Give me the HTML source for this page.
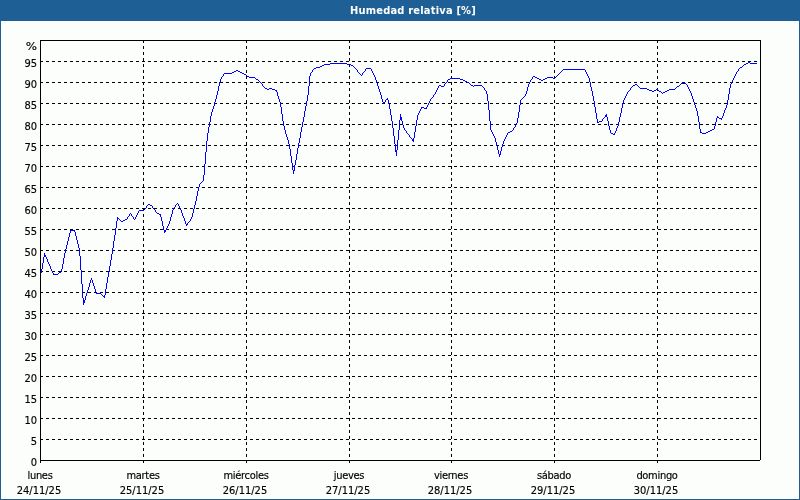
<!DOCTYPE html>
<html lang="es">
<head>
<meta charset="utf-8">
<title>Humedad relativa [%]</title>
<style>
html,body{margin:0;padding:0}
body{width:800px;height:500px;position:relative;overflow:hidden;background:#1e6096;font-family:"DejaVu Sans Condensed","Liberation Sans",sans-serif;font-size:11px;color:#000;-webkit-text-stroke:0.15px #000}
#title{position:absolute;left:350px;top:4px;letter-spacing:0.2px;color:#fff;font-weight:bold;-webkit-text-stroke:0;font-size:11px;line-height:13px;white-space:nowrap}
#panel{position:absolute;left:1px;top:21px;width:798px;height:478px;background:#fcfefb;box-shadow:inset 0 0 0 1px #fff}
.yl{position:absolute;left:0;width:37px;text-align:right;line-height:13px;height:13px;white-space:nowrap}
.xl{position:absolute;width:100px;text-align:center;line-height:13px;height:13px;white-space:nowrap}
.dn{letter-spacing:-0.3px}
</style>
</head>
<body>
<div id="title">Humedad relativa [%]</div>
<div id="panel"></div>
<svg width="800" height="500" viewBox="0 0 800 500" style="position:absolute;left:0;top:0">
<g shape-rendering="crispEdges" stroke="#000" stroke-width="1" fill="none">
<g stroke-dasharray="3 3">
<line x1="40" y1="439.5" x2="760" y2="439.5"/>
<line x1="40" y1="418.5" x2="760" y2="418.5"/>
<line x1="40" y1="397.5" x2="760" y2="397.5"/>
<line x1="40" y1="376.5" x2="760" y2="376.5"/>
<line x1="40" y1="355.5" x2="760" y2="355.5"/>
<line x1="40" y1="334.5" x2="760" y2="334.5"/>
<line x1="40" y1="313.5" x2="760" y2="313.5"/>
<line x1="40" y1="292.5" x2="760" y2="292.5"/>
<line x1="40" y1="271.5" x2="760" y2="271.5"/>
<line x1="40" y1="250.5" x2="760" y2="250.5"/>
<line x1="40" y1="229.5" x2="760" y2="229.5"/>
<line x1="40" y1="208.5" x2="760" y2="208.5"/>
<line x1="40" y1="187.5" x2="760" y2="187.5"/>
<line x1="40" y1="166.5" x2="760" y2="166.5"/>
<line x1="40" y1="145.5" x2="760" y2="145.5"/>
<line x1="40" y1="124.5" x2="760" y2="124.5"/>
<line x1="40" y1="103.5" x2="760" y2="103.5"/>
<line x1="40" y1="82.5" x2="760" y2="82.5"/>
<line x1="40" y1="61.5" x2="760" y2="61.5"/>
<line x1="143.5" y1="40" x2="143.5" y2="460"/>
<line x1="246.5" y1="40" x2="246.5" y2="460"/>
<line x1="349.5" y1="40" x2="349.5" y2="460"/>
<line x1="451.5" y1="40" x2="451.5" y2="460"/>
<line x1="554.5" y1="40" x2="554.5" y2="460"/>
<line x1="657.5" y1="40" x2="657.5" y2="460"/>
</g>
<path stroke="none" fill="#000" d="M40 40h721v1h-721zM760 40h1v420h-1zM40 460h720v1h-720zM40 40h1v423h-1z"/>
<line x1="143.5" y1="460" x2="143.5" y2="463"/>
<line x1="246.5" y1="460" x2="246.5" y2="463"/>
<line x1="349.5" y1="460" x2="349.5" y2="463"/>
<line x1="451.5" y1="460" x2="451.5" y2="463"/>
<line x1="554.5" y1="460" x2="554.5" y2="463"/>
<line x1="657.5" y1="460" x2="657.5" y2="463"/>
</g>
<path fill="#0000ff" shape-rendering="crispEdges" d="M41 269h1v4h-1zM42 263h1v6h-1zM43 257h1v6h-1zM44 253h1v4h-1zM45 255h1v2h-1zM46 257h1v2h-1zM47 259h1v3h-1zM48 262h1v2h-1zM49 264h1v2h-1zM50 266h1v3h-1zM51 269h1v2h-1zM52 271h1v2h-1zM53 273h1v2h-1zM54 274h1v1h-1zM55 274h1v1h-1zM56 274h1v1h-1zM57 274h1v1h-1zM58 273h1v1h-1zM59 272h1v1h-1zM60 272h1v1h-1zM61 269h1v3h-1zM62 264h1v5h-1zM63 258h1v6h-1zM64 253h1v5h-1zM65 249h1v4h-1zM66 245h1v4h-1zM67 241h1v4h-1zM68 237h1v4h-1zM69 233h1v4h-1zM70 230h1v3h-1zM71 230h1v1h-1zM72 230h1v1h-1zM73 230h1v1h-1zM74 230h1v2h-1zM75 232h1v4h-1zM76 236h1v4h-1zM77 240h1v4h-1zM78 244h1v4h-1zM79 248h1v8h-1zM80 256h1v14h-1zM81 270h1v14h-1zM82 284h1v14h-1zM83 298h1v7h-1zM84 300h1v3h-1zM85 296h1v4h-1zM86 293h1v3h-1zM87 290h1v3h-1zM88 287h1v3h-1zM89 283h1v4h-1zM90 280h1v3h-1zM91 278h1v2h-1zM92 280h1v3h-1zM93 283h1v3h-1zM94 286h1v3h-1zM95 289h1v3h-1zM96 292h1v2h-1zM97 293h1v1h-1zM98 293h1v1h-1zM99 293h1v1h-1zM100 293h1v1h-1zM101 294h1v1h-1zM102 295h1v1h-1zM103 296h1v1h-1zM104 295h1v3h-1zM105 289h1v6h-1zM106 283h1v6h-1zM107 277h1v6h-1zM108 272h1v5h-1zM109 266h1v6h-1zM110 260h1v6h-1zM111 254h1v6h-1zM112 248h1v6h-1zM113 241h1v7h-1zM114 235h1v6h-1zM115 228h1v7h-1zM116 221h1v7h-1zM117 217h1v4h-1zM118 218h1v1h-1zM119 219h1v1h-1zM120 220h1v1h-1zM121 221h1v1h-1zM122 221h1v1h-1zM123 220h1v1h-1zM124 220h1v1h-1zM125 219h1v1h-1zM126 219h1v1h-1zM127 217h1v2h-1zM128 216h1v1h-1zM129 214h1v2h-1zM130 213h1v1h-1zM131 214h1v2h-1zM132 216h1v1h-1zM133 217h1v2h-1zM134 219h1v1h-1zM135 217h1v2h-1zM136 215h1v2h-1zM137 213h1v2h-1zM138 211h1v2h-1zM139 210h1v1h-1zM140 210h1v1h-1zM141 210h1v1h-1zM142 210h1v1h-1zM143 210h1v1h-1zM144 209h1v1h-1zM145 208h1v1h-1zM146 206h1v2h-1zM147 205h1v1h-1zM148 204h1v1h-1zM149 204h1v1h-1zM150 205h1v1h-1zM151 205h1v1h-1zM152 206h1v2h-1zM153 208h1v1h-1zM154 209h1v1h-1zM155 210h1v2h-1zM156 212h1v1h-1zM157 213h1v1h-1zM158 213h1v1h-1zM159 214h1v1h-1zM160 214h1v3h-1zM161 217h1v4h-1zM162 221h1v5h-1zM163 226h1v4h-1zM164 230h1v3h-1zM165 230h1v2h-1zM166 228h1v2h-1zM167 226h1v2h-1zM168 224h1v2h-1zM169 221h1v3h-1zM170 217h1v4h-1zM171 214h1v3h-1zM172 210h1v4h-1zM173 208h1v2h-1zM174 207h1v1h-1zM175 205h1v2h-1zM176 204h1v1h-1zM177 203h1v1h-1zM178 204h1v2h-1zM179 206h1v2h-1zM180 208h1v2h-1zM181 210h1v3h-1zM182 213h1v3h-1zM183 216h1v2h-1zM184 218h1v3h-1zM185 221h1v3h-1zM186 224h1v2h-1zM187 223h1v2h-1zM188 222h1v1h-1zM189 221h1v1h-1zM190 219h1v2h-1zM191 217h1v2h-1zM192 213h1v4h-1zM193 209h1v4h-1zM194 205h1v4h-1zM195 201h1v4h-1zM196 196h1v5h-1zM197 191h1v5h-1zM198 187h1v4h-1zM199 184h1v3h-1zM200 183h1v1h-1zM201 182h1v1h-1zM202 181h1v1h-1zM203 175h1v6h-1zM204 164h1v11h-1zM205 152h1v12h-1zM206 141h1v11h-1zM207 133h1v8h-1zM208 127h1v6h-1zM209 122h1v5h-1zM210 116h1v6h-1zM211 112h1v4h-1zM212 109h1v3h-1zM213 106h1v3h-1zM214 102h1v4h-1zM215 99h1v3h-1zM216 95h1v4h-1zM217 91h1v4h-1zM218 86h1v5h-1zM219 82h1v4h-1zM220 79h1v3h-1zM221 77h1v2h-1zM222 76h1v1h-1zM223 74h1v2h-1zM224 73h1v1h-1zM225 73h1v1h-1zM226 73h1v1h-1zM227 73h1v1h-1zM228 73h1v1h-1zM229 73h1v1h-1zM230 73h1v1h-1zM231 73h1v1h-1zM232 72h1v1h-1zM233 72h1v1h-1zM234 71h1v1h-1zM235 71h1v1h-1zM236 70h1v1h-1zM237 70h1v1h-1zM238 71h1v1h-1zM239 71h1v1h-1zM240 72h1v1h-1zM241 72h1v1h-1zM242 73h1v1h-1zM243 73h1v1h-1zM244 74h1v1h-1zM245 74h1v1h-1zM246 75h1v1h-1zM247 76h1v1h-1zM248 76h1v1h-1zM249 77h1v1h-1zM250 77h1v1h-1zM251 77h1v1h-1zM252 77h1v1h-1zM253 77h1v1h-1zM254 77h1v1h-1zM255 78h1v1h-1zM256 79h1v1h-1zM257 79h1v1h-1zM258 80h1v1h-1zM259 81h1v1h-1zM260 82h1v1h-1zM261 83h1v1h-1zM262 84h1v2h-1zM263 86h1v1h-1zM264 87h1v1h-1zM265 88h1v1h-1zM266 88h1v1h-1zM267 89h1v1h-1zM268 89h1v1h-1zM269 88h1v1h-1zM270 88h1v1h-1zM271 88h1v1h-1zM272 89h1v1h-1zM273 89h1v1h-1zM274 89h1v1h-1zM275 90h1v1h-1zM276 90h1v2h-1zM277 92h1v4h-1zM278 96h1v3h-1zM279 99h1v3h-1zM280 102h1v5h-1zM281 107h1v7h-1zM282 114h1v7h-1zM283 121h1v5h-1zM284 126h1v4h-1zM285 130h1v4h-1zM286 134h1v3h-1zM287 137h1v3h-1zM288 140h1v4h-1zM289 144h1v5h-1zM290 149h1v7h-1zM291 156h1v7h-1zM292 163h1v7h-1zM293 170h1v4h-1zM294 165h1v6h-1zM295 160h1v5h-1zM296 154h1v6h-1zM297 148h1v6h-1zM298 143h1v5h-1zM299 138h1v5h-1zM300 132h1v6h-1zM301 127h1v5h-1zM302 122h1v5h-1zM303 117h1v5h-1zM304 111h1v6h-1zM305 106h1v5h-1zM306 101h1v5h-1zM307 95h1v6h-1zM308 86h1v9h-1zM309 76h1v10h-1zM310 73h1v3h-1zM311 72h1v1h-1zM312 70h1v2h-1zM313 69h1v1h-1zM314 68h1v1h-1zM315 68h1v1h-1zM316 67h1v1h-1zM317 67h1v1h-1zM318 67h1v1h-1zM319 67h1v1h-1zM320 66h1v1h-1zM321 66h1v1h-1zM322 65h1v1h-1zM323 65h1v1h-1zM324 64h1v1h-1zM325 64h1v1h-1zM326 64h1v1h-1zM327 64h1v1h-1zM328 64h1v1h-1zM329 64h1v1h-1zM330 63h1v1h-1zM331 63h1v1h-1zM332 63h1v1h-1zM333 63h1v1h-1zM334 63h1v1h-1zM335 63h1v1h-1zM336 63h1v1h-1zM337 63h1v1h-1zM338 63h1v1h-1zM339 63h1v1h-1zM340 63h1v1h-1zM341 63h1v1h-1zM342 63h1v1h-1zM343 63h1v1h-1zM344 63h1v1h-1zM345 63h1v1h-1zM346 63h1v1h-1zM347 64h1v1h-1zM348 64h1v1h-1zM349 64h1v1h-1zM350 64h1v1h-1zM351 65h1v1h-1zM352 65h1v1h-1zM353 66h1v1h-1zM354 67h1v1h-1zM355 68h1v1h-1zM356 69h1v1h-1zM357 70h1v2h-1zM358 72h1v1h-1zM359 73h1v1h-1zM360 74h1v1h-1zM361 75h1v1h-1zM362 73h1v2h-1zM363 72h1v1h-1zM364 71h1v1h-1zM365 69h1v2h-1zM366 68h1v1h-1zM367 68h1v1h-1zM368 68h1v1h-1zM369 68h1v1h-1zM370 68h1v1h-1zM371 69h1v2h-1zM372 71h1v2h-1zM373 73h1v2h-1zM374 75h1v2h-1zM375 77h1v3h-1zM376 80h1v3h-1zM377 83h1v3h-1zM378 86h1v3h-1zM379 89h1v3h-1zM380 92h1v3h-1zM381 95h1v4h-1zM382 99h1v3h-1zM383 102h1v2h-1zM384 102h1v1h-1zM385 100h1v2h-1zM386 99h1v1h-1zM387 98h1v2h-1zM388 100h1v4h-1zM389 104h1v5h-1zM390 109h1v6h-1zM391 115h1v6h-1zM392 121h1v7h-1zM393 128h1v8h-1zM394 136h1v8h-1zM395 144h1v8h-1zM396 150h1v6h-1zM397 140h1v10h-1zM398 130h1v10h-1zM399 120h1v10h-1zM400 114h1v6h-1zM401 117h1v4h-1zM402 121h1v4h-1zM403 125h1v3h-1zM404 128h1v2h-1zM405 130h1v1h-1zM406 131h1v2h-1zM407 133h1v1h-1zM408 134h1v1h-1zM409 135h1v2h-1zM410 137h1v1h-1zM411 138h1v1h-1zM412 139h1v2h-1zM413 138h1v4h-1zM414 132h1v6h-1zM415 126h1v6h-1zM416 120h1v6h-1zM417 115h1v5h-1zM418 113h1v2h-1zM419 111h1v2h-1zM420 109h1v2h-1zM421 107h1v2h-1zM422 107h1v1h-1zM423 107h1v1h-1zM424 108h1v1h-1zM425 108h1v1h-1zM426 107h1v2h-1zM427 105h1v2h-1zM428 103h1v2h-1zM429 101h1v2h-1zM430 99h1v2h-1zM431 98h1v1h-1zM432 97h1v1h-1zM433 95h1v2h-1zM434 94h1v1h-1zM435 92h1v2h-1zM436 90h1v2h-1zM437 88h1v2h-1zM438 86h1v2h-1zM439 85h1v1h-1zM440 85h1v1h-1zM441 86h1v1h-1zM442 86h1v1h-1zM443 86h1v1h-1zM444 84h1v2h-1zM445 83h1v1h-1zM446 82h1v1h-1zM447 80h1v2h-1zM448 79h1v1h-1zM449 79h1v1h-1zM450 78h1v1h-1zM451 78h1v1h-1zM452 78h1v1h-1zM453 78h1v1h-1zM454 78h1v1h-1zM455 78h1v1h-1zM456 78h1v1h-1zM457 78h1v1h-1zM458 78h1v1h-1zM459 78h1v1h-1zM460 79h1v1h-1zM461 79h1v1h-1zM462 79h1v1h-1zM463 80h1v1h-1zM464 80h1v1h-1zM465 81h1v1h-1zM466 81h1v1h-1zM467 82h1v1h-1zM468 82h1v1h-1zM469 83h1v1h-1zM470 84h1v1h-1zM471 85h1v1h-1zM472 85h1v1h-1zM473 86h1v1h-1zM474 85h1v1h-1zM475 85h1v1h-1zM476 85h1v1h-1zM477 85h1v1h-1zM478 85h1v1h-1zM479 85h1v1h-1zM480 85h1v1h-1zM481 85h1v1h-1zM482 86h1v1h-1zM483 87h1v1h-1zM484 88h1v2h-1zM485 90h1v1h-1zM486 91h1v3h-1zM487 94h1v7h-1zM488 101h1v9h-1zM489 110h1v11h-1zM490 121h1v9h-1zM491 130h1v2h-1zM492 132h1v2h-1zM493 134h1v2h-1zM494 136h1v2h-1zM495 138h1v4h-1zM496 142h1v4h-1zM497 146h1v4h-1zM498 150h1v4h-1zM499 154h1v3h-1zM500 151h1v4h-1zM501 147h1v4h-1zM502 144h1v3h-1zM503 141h1v3h-1zM504 139h1v2h-1zM505 137h1v2h-1zM506 135h1v2h-1zM507 133h1v2h-1zM508 132h1v1h-1zM509 132h1v1h-1zM510 131h1v1h-1zM511 131h1v1h-1zM512 130h1v1h-1zM513 128h1v2h-1zM514 127h1v1h-1zM515 125h1v2h-1zM516 123h1v2h-1zM517 118h1v5h-1zM518 112h1v6h-1zM519 105h1v7h-1zM520 100h1v5h-1zM521 99h1v1h-1zM522 98h1v1h-1zM523 97h1v1h-1zM524 96h1v1h-1zM525 94h1v2h-1zM526 91h1v3h-1zM527 87h1v4h-1zM528 84h1v3h-1zM529 82h1v2h-1zM530 80h1v2h-1zM531 79h1v1h-1zM532 77h1v2h-1zM533 76h1v1h-1zM534 76h1v1h-1zM535 77h1v1h-1zM536 77h1v1h-1zM537 78h1v1h-1zM538 78h1v1h-1zM539 79h1v1h-1zM540 79h1v1h-1zM541 80h1v1h-1zM542 80h1v1h-1zM543 79h1v1h-1zM544 79h1v1h-1zM545 78h1v1h-1zM546 78h1v1h-1zM547 77h1v1h-1zM548 77h1v1h-1zM549 77h1v1h-1zM550 77h1v1h-1zM551 77h1v1h-1zM552 77h1v1h-1zM553 78h1v1h-1zM554 78h1v1h-1zM555 77h1v1h-1zM556 76h1v1h-1zM557 75h1v1h-1zM558 74h1v1h-1zM559 73h1v1h-1zM560 72h1v1h-1zM561 71h1v1h-1zM562 70h1v1h-1zM563 69h1v1h-1zM564 69h1v1h-1zM565 69h1v1h-1zM566 69h1v1h-1zM567 69h1v1h-1zM568 69h1v1h-1zM569 69h1v1h-1zM570 69h1v1h-1zM571 69h1v1h-1zM572 69h1v1h-1zM573 69h1v1h-1zM574 69h1v1h-1zM575 69h1v1h-1zM576 69h1v1h-1zM577 69h1v1h-1zM578 69h1v1h-1zM579 69h1v1h-1zM580 69h1v1h-1zM581 69h1v1h-1zM582 69h1v1h-1zM583 69h1v1h-1zM584 69h1v1h-1zM585 70h1v2h-1zM586 72h1v2h-1zM587 74h1v2h-1zM588 76h1v2h-1zM589 78h1v4h-1zM590 82h1v5h-1zM591 87h1v4h-1zM592 91h1v5h-1zM593 96h1v5h-1zM594 101h1v6h-1zM595 107h1v6h-1zM596 113h1v6h-1zM597 119h1v4h-1zM598 122h1v1h-1zM599 121h1v1h-1zM600 121h1v1h-1zM601 121h1v1h-1zM602 119h1v2h-1zM603 118h1v1h-1zM604 117h1v1h-1zM605 115h1v2h-1zM606 114h1v3h-1zM607 117h1v4h-1zM608 121h1v5h-1zM609 126h1v4h-1zM610 130h1v3h-1zM611 133h1v1h-1zM612 133h1v1h-1zM613 134h1v1h-1zM614 133h1v2h-1zM615 131h1v2h-1zM616 128h1v3h-1zM617 126h1v2h-1zM618 122h1v4h-1zM619 117h1v5h-1zM620 113h1v4h-1zM621 108h1v5h-1zM622 103h1v5h-1zM623 100h1v3h-1zM624 98h1v2h-1zM625 96h1v2h-1zM626 94h1v2h-1zM627 92h1v2h-1zM628 91h1v1h-1zM629 90h1v1h-1zM630 88h1v2h-1zM631 87h1v1h-1zM632 86h1v1h-1zM633 85h1v1h-1zM634 85h1v1h-1zM635 84h1v1h-1zM636 84h1v1h-1zM637 85h1v1h-1zM638 86h1v1h-1zM639 87h1v1h-1zM640 88h1v1h-1zM641 88h1v1h-1zM642 88h1v1h-1zM643 88h1v1h-1zM644 88h1v1h-1zM645 88h1v1h-1zM646 88h1v1h-1zM647 89h1v1h-1zM648 89h1v1h-1zM649 90h1v1h-1zM650 90h1v1h-1zM651 90h1v1h-1zM652 91h1v1h-1zM653 91h1v1h-1zM654 90h1v1h-1zM655 90h1v1h-1zM656 89h1v1h-1zM657 89h1v1h-1zM658 90h1v1h-1zM659 91h1v1h-1zM660 91h1v1h-1zM661 92h1v1h-1zM662 93h1v1h-1zM663 92h1v1h-1zM664 92h1v1h-1zM665 91h1v1h-1zM666 91h1v1h-1zM667 90h1v1h-1zM668 90h1v1h-1zM669 89h1v1h-1zM670 89h1v1h-1zM671 89h1v1h-1zM672 89h1v1h-1zM673 89h1v1h-1zM674 89h1v1h-1zM675 88h1v1h-1zM676 87h1v1h-1zM677 86h1v1h-1zM678 86h1v1h-1zM679 85h1v1h-1zM680 84h1v1h-1zM681 83h1v1h-1zM682 83h1v1h-1zM683 83h1v1h-1zM684 83h1v1h-1zM685 83h1v1h-1zM686 84h1v1h-1zM687 85h1v2h-1zM688 87h1v2h-1zM689 89h1v2h-1zM690 91h1v2h-1zM691 93h1v3h-1zM692 96h1v3h-1zM693 99h1v3h-1zM694 102h1v3h-1zM695 105h1v3h-1zM696 108h1v3h-1zM697 111h1v5h-1zM698 116h1v6h-1zM699 122h1v7h-1zM700 129h1v4h-1zM701 132h1v1h-1zM702 133h1v1h-1zM703 133h1v1h-1zM704 133h1v1h-1zM705 133h1v1h-1zM706 132h1v1h-1zM707 132h1v1h-1zM708 131h1v1h-1zM709 131h1v1h-1zM710 130h1v1h-1zM711 130h1v1h-1zM712 129h1v1h-1zM713 129h1v1h-1zM714 126h1v3h-1zM715 122h1v4h-1zM716 118h1v4h-1zM717 116h1v2h-1zM718 117h1v1h-1zM719 118h1v1h-1zM720 118h1v1h-1zM721 118h1v2h-1zM722 116h1v2h-1zM723 113h1v3h-1zM724 110h1v3h-1zM725 108h1v2h-1zM726 105h1v3h-1zM727 100h1v5h-1zM728 94h1v6h-1zM729 88h1v6h-1zM730 84h1v4h-1zM731 82h1v2h-1zM732 80h1v2h-1zM733 78h1v2h-1zM734 76h1v2h-1zM735 74h1v2h-1zM736 72h1v2h-1zM737 71h1v1h-1zM738 69h1v2h-1zM739 68h1v1h-1zM740 67h1v1h-1zM741 67h1v1h-1zM742 66h1v1h-1zM743 65h1v1h-1zM744 64h1v1h-1zM745 64h1v1h-1zM746 63h1v1h-1zM747 63h1v1h-1zM748 62h1v1h-1zM749 62h1v1h-1zM750 63h1v1h-1zM751 63h1v1h-1zM752 63h1v1h-1zM753 63h1v1h-1zM754 63h1v1h-1zM755 63h1v1h-1zM756 63h1v1h-1z"/>
</svg>
<div class="yl" style="top:40px;transform:scaleX(1.2);transform-origin:100% 50%">%</div>
<div class="yl" style="top:456px">0</div>
<div class="yl" style="top:435px">5</div>
<div class="yl" style="top:414px">10</div>
<div class="yl" style="top:393px">15</div>
<div class="yl" style="top:372px">20</div>
<div class="yl" style="top:351px">25</div>
<div class="yl" style="top:330px">30</div>
<div class="yl" style="top:309px">35</div>
<div class="yl" style="top:288px">40</div>
<div class="yl" style="top:267px">45</div>
<div class="yl" style="top:246px">50</div>
<div class="yl" style="top:225px">55</div>
<div class="yl" style="top:204px">60</div>
<div class="yl" style="top:183px">65</div>
<div class="yl" style="top:162px">70</div>
<div class="yl" style="top:141px">75</div>
<div class="yl" style="top:120px">80</div>
<div class="yl" style="top:99px">85</div>
<div class="yl" style="top:78px">90</div>
<div class="yl" style="top:57px">95</div>
<div class="xl dn" style="left:-10px;top:469px">lunes</div>
<div class="xl" style="left:-11px;top:484px">24/11/25</div>
<div class="xl dn" style="left:93px;top:469px">martes</div>
<div class="xl" style="left:92px;top:484px">25/11/25</div>
<div class="xl dn" style="left:196px;top:469px">miércoles</div>
<div class="xl" style="left:195px;top:484px">26/11/25</div>
<div class="xl dn" style="left:299px;top:469px">jueves</div>
<div class="xl" style="left:298px;top:484px">27/11/25</div>
<div class="xl dn" style="left:401px;top:469px">viernes</div>
<div class="xl" style="left:400px;top:484px">28/11/25</div>
<div class="xl dn" style="left:504px;top:469px">sábado</div>
<div class="xl" style="left:503px;top:484px">29/11/25</div>
<div class="xl dn" style="left:607px;top:469px">domingo</div>
<div class="xl" style="left:606px;top:484px">30/11/25</div>
</body>
</html>
